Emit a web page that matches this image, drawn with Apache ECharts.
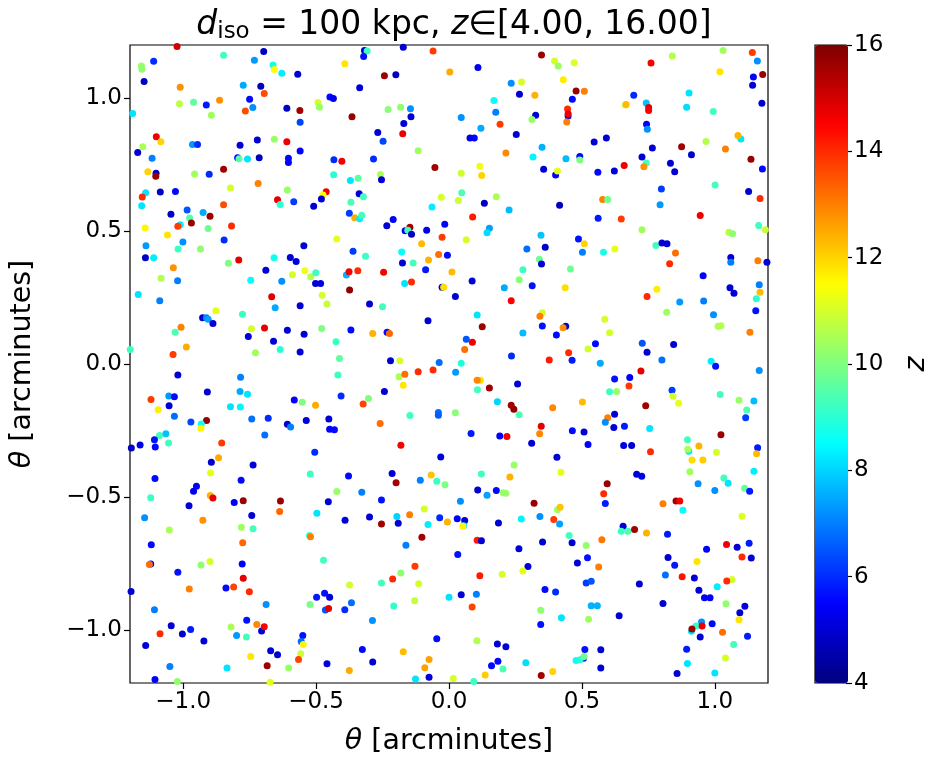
<!DOCTYPE html>
<html>
<head>
<meta charset="utf-8">
<script src="https://cdn.jsdelivr.net/npm/echarts@6/dist/echarts.min.js"></script>
<style>html,body{margin:0;padding:0;background:#fff;}#c{width:932px;height:762px;}</style>
</head>
<body>
<div id="c"></div>
<script>
// Points: [theta_x (arcmin), theta_y (arcmin), z]
const ptsNW = [[-1.023,1.194,15.0],[-0.697,1.176,4.8],[-0.848,1.161,9.3],[-1.111,1.139,6.0],[-1.157,1.121,10.3],[-1.155,1.109,10.2],[-0.732,1.143,7.3],[-0.662,1.125,8.7],[-0.657,1.108,11.5],[-0.629,1.094,8.3],[-1.147,1.063,4.8],[-1.011,1.041,12.8],[-0.774,1.049,7.5],[-0.708,1.045,4.7],[-0.695,1.018,13.6],[-0.750,0.996,5.6],[-0.863,0.992,12.8],[-1.014,0.979,10.7],[-0.961,0.985,9.6],[-0.913,0.974,5.8],[-0.894,0.936,10.4],[-0.766,0.952,13.6],[-0.738,0.965,7.2],[-1.190,0.942,8.2],[-0.610,0.962,4.8],[-1.101,0.855,14.7],[-1.084,0.836,12.0],[-1.152,0.817,10.5],[-1.171,0.796,5.0],[-1.117,0.774,7.0],[-0.965,0.826,7.3],[-0.946,0.826,6.0],[-0.786,0.823,5.0],[-0.721,0.843,5.0],[-0.657,0.845,10.3],[-0.610,0.836,14.7],[-0.795,0.776,5.5],[-0.790,0.772,9.5],[-0.758,0.771,8.2],[-0.714,0.776,4.8],[-1.133,0.723,12.0],[-1.102,0.718,4.8],[-1.103,0.706,15.7],[-0.957,0.715,10.4],[-0.902,0.714,6.0],[-0.848,0.733,15.6],[-0.822,0.662,11.0],[-0.718,0.679,13.0],[-0.608,0.655,10.3],[-1.141,0.644,8.2],[-1.154,0.628,14.0],[-1.156,0.595,8.2],[-1.086,0.647,4.8],[-1.029,0.649,5.6],[-0.645,0.618,14.8],[-0.635,0.600,9.0],[-0.985,0.579,6.5],[-0.925,0.570,7.5],[-1.046,0.563,4.8],[-0.976,0.549,9.5],[-0.969,0.530,15.7],[-0.899,0.556,15.7],[-0.848,0.599,13.6],[-1.011,0.524,8.3],[-1.020,0.518,13.8],[-0.906,0.510,9.8],[-0.818,0.519,14.0],[-1.143,0.512,11.6],[-1.059,0.485,11.8],[-1.001,0.459,7.2],[-0.846,0.466,6.0],[-1.140,0.445,7.3],[-1.019,0.433,9.2],[-0.935,0.433,10.2]];
const ptsNC = [[-0.604,0.774,5.6],[-0.604,0.758,5.5],[-0.318,1.179,5.0],[-0.308,1.177,9.2],[-0.321,1.157,5.7],[-0.172,1.192,5.0],[-0.060,1.177,13.8],[-0.392,1.129,11.8],[0.003,1.098,12.5],[-0.569,1.090,5.0],[-0.243,1.084,15.6],[-0.200,1.088,4.8],[-0.336,1.039,5.0],[-0.448,1.004,5.6],[-0.435,0.999,5.3],[-0.493,0.984,11.0],[-0.487,0.966,10.3],[-0.561,0.954,15.6],[-0.560,0.909,6.3],[-0.365,0.930,15.7],[-0.229,0.957,10.1],[-0.182,0.966,10.2],[-0.145,0.960,7.2],[-0.143,0.930,5.0],[-0.170,0.905,5.0],[-0.174,0.866,14.7],[-0.268,0.871,5.0],[-0.248,0.838,6.3],[-0.560,0.801,5.5],[-0.433,0.768,6.0],[-0.403,0.763,14.7],[-0.284,0.771,6.0],[-0.116,0.802,10.4],[-0.053,0.739,15.6],[-0.434,0.712,9.0],[-0.371,0.690,8.2],[-0.342,0.699,9.6],[-0.258,0.713,10.5],[-0.254,0.693,5.0],[-0.462,0.648,14.6],[-0.474,0.636,11.5],[-0.480,0.621,5.0],[-0.584,0.610,6.2],[-0.509,0.593,5.0],[-0.338,0.640,5.0],[-0.322,0.629,9.3],[-0.369,0.608,9.4],[-0.375,0.567,6.2],[-0.355,0.550,12.5],[-0.336,0.546,8.3],[-0.328,0.560,9.3],[-0.210,0.544,5.5],[-0.234,0.520,5.0],[-0.147,0.514,15.6],[-0.165,0.501,5.5],[-0.155,0.503,9.3],[-0.141,0.488,4.8],[-0.084,0.503,5.2],[-0.016,0.526,5.5],[-0.064,0.591,8.3],[-0.029,0.627,11.0],[-0.026,0.477,13.8],[-0.103,0.452,12.3],[-0.422,0.470,11.2],[-0.546,0.445,5.0],[-0.361,0.424,6.2],[-0.314,0.405,9.2],[-0.178,0.421,8.5],[-0.039,0.412,13.2],[-0.006,0.409,5.6]];
const ptsNE1 = [[0.348,1.162,15.7],[0.397,1.140,11.0],[0.411,1.121,10.3],[0.471,1.133,11.1],[0.109,1.115,5.4],[0.430,1.069,11.7],[0.234,1.056,7.2],[0.273,1.061,11.0],[0.265,1.015,5.0],[0.323,1.011,12.4],[0.478,1.027,15.7],[0.509,1.026,13.0],[0.464,0.996,5.6],[0.169,0.991,8.6],[0.176,0.947,7.0],[0.046,0.927,7.2],[0.446,0.959,14.0],[0.448,0.933,5.5],[0.448,0.941,14.7],[0.443,0.910,13.0],[0.326,0.936,5.0],[0.312,0.920,10.3],[0.192,0.902,13.8],[0.120,0.887,7.5],[0.253,0.863,5.0],[0.079,0.850,5.2],[0.095,0.850,5.5],[0.546,0.835,5.0],[0.592,0.850,5.0],[0.214,0.794,12.9],[0.350,0.815,7.6],[0.316,0.779,8.4],[0.440,0.772,7.7],[0.492,0.781,5.6],[0.492,0.767,10.0],[0.356,0.733,5.0],[0.401,0.711,5.4],[0.408,0.726,11.2],[0.116,0.744,11.3],[0.123,0.709,12.0],[0.046,0.718,10.9],[0.560,0.721,5.6],[0.048,0.644,9.4],[0.035,0.615,10.9],[0.178,0.629,10.5],[0.133,0.605,4.8],[0.226,0.579,7.7],[0.416,0.597,4.8],[0.578,0.619,13.0],[0.597,0.619,9.8],[0.561,0.548,5.8],[0.089,0.553,14.2],[0.152,0.511,7.4],[0.143,0.494,8.1],[0.065,0.467,11.0],[0.346,0.484,7.8],[0.487,0.470,5.7],[0.509,0.452,12.0],[0.293,0.433,6.8],[0.362,0.439,4.8],[0.502,0.420,7.0],[0.581,0.420,8.8]];
const ptsNE2 = [[1.031,1.179,10.4],[1.141,1.172,13.8],[1.160,1.140,7.2],[0.840,1.159,10.6],[0.760,1.132,14.6],[1.019,1.099,11.8],[1.145,1.080,5.5],[1.180,1.089,15.7],[1.142,1.049,5.0],[0.695,1.011,6.0],[0.664,0.974,10.8],[0.666,0.976,12.3],[0.742,0.982,7.8],[0.751,0.965,14.8],[0.751,0.954,14.6],[0.903,1.019,8.2],[0.894,0.966,8.1],[0.994,0.950,9.3],[1.177,0.981,5.0],[0.743,0.902,5.5],[0.746,0.883,7.2],[1.098,0.846,8.2],[1.087,0.860,12.4],[0.967,0.837,10.6],[1.040,0.809,13.0],[0.875,0.817,15.6],[0.912,0.787,5.0],[0.765,0.813,5.0],[0.726,0.779,5.0],[0.742,0.756,9.3],[0.733,0.742,12.8],[0.659,0.747,14.7],[0.622,0.726,5.0],[0.833,0.755,5.0],[0.849,0.723,5.0],[1.136,0.770,15.7],[1.179,0.734,5.6],[0.799,0.658,6.2],[1.001,0.673,9.3],[1.127,0.649,5.0],[1.170,0.623,14.0],[0.794,0.599,7.3],[0.945,0.559,14.7],[0.648,0.545,13.8],[0.726,0.505,10.4],[1.053,0.496,10.6],[1.067,0.490,10.2],[1.165,0.521,9.2],[1.190,0.505,10.8],[0.624,0.433,11.2],[0.778,0.446,9.3],[0.801,0.455,5.0],[0.820,0.452,5.0],[0.852,0.418,13.2]];
const ptsW = [[-1.142,0.400,4.8],[-1.111,0.400,8.3],[-0.830,0.379,10.0],[-0.791,0.391,14.8],[-0.658,0.400,8.7],[-0.597,0.401,5.0],[-0.575,0.386,5.0],[-1.037,0.362,12.8],[-1.083,0.323,10.6],[-1.021,0.313,7.0],[-1.169,0.261,8.2],[-1.088,0.238,7.0],[-0.689,0.353,5.0],[-0.746,0.315,8.5],[-0.629,0.311,7.2],[-0.667,0.253,14.8],[-0.654,0.212,7.5],[-0.877,0.200,11.2],[-0.927,0.174,5.0],[-0.913,0.174,7.0],[-0.906,0.168,7.4],[-0.888,0.152,5.0],[-0.777,0.187,9.2],[-1.008,0.138,13.0],[-1.030,0.119,9.4],[-0.988,0.064,12.5],[-1.038,0.036,13.8],[-1.199,0.055,9.2],[-0.743,0.133,11.0],[-0.694,0.135,14.8],[-0.755,0.103,5.0],[-0.660,0.086,5.0],[-0.635,0.055,9.0],[-0.728,0.042,10.4],[-0.608,0.127,5.0],[-1.020,-0.041,5.0],[-0.784,-0.050,7.0],[-0.909,-0.105,5.0],[-0.786,-0.103,7.5],[-0.758,-0.114,8.2],[-0.822,-0.161,8.2],[-0.785,-0.162,8.4],[-1.121,-0.134,13.8],[-1.054,-0.120,7.3],[-1.033,-0.123,5.6],[-1.053,-0.157,5.0],[-1.094,-0.172,11.7],[-1.033,-0.197,6.8],[-0.971,-0.218,6.3],[-0.912,-0.213,15.7],[-0.932,-0.226,8.6],[-0.933,-0.242,11.6],[-0.742,-0.207,6.8],[-0.680,-0.204,6.0],[-0.608,-0.227,5.0],[-0.596,-0.237,7.0],[-0.693,-0.267,6.8],[-1.089,-0.269,9.3],[-1.065,-0.262,7.8],[-1.108,-0.285,5.7],[-1.105,-0.312,5.6],[-1.055,-0.297,9.2],[-1.162,-0.305,5.2],[-1.195,-0.316,4.8],[-0.855,-0.297,13.8],[-0.867,-0.353,12.5],[-0.894,-0.370,5.0],[-0.737,-0.380,5.0]];
const ptsC1 = [[-0.589,0.336,11.0],[-0.542,0.351,11.3],[-0.520,0.328,10.6],[-0.501,0.343,9.2],[-0.502,0.303,5.0],[-0.483,0.303,5.2],[-0.477,0.259,11.0],[-0.459,0.226,10.8],[-0.560,0.219,5.0],[-0.386,0.335,7.6],[-0.376,0.347,14.6],[-0.343,0.351,14.0],[-0.374,0.278,15.8],[-0.246,0.345,14.6],[-0.175,0.380,5.0],[-0.135,0.380,9.3],[-0.077,0.391,12.4],[-0.088,0.355,5.8],[-0.167,0.303,8.2],[-0.141,0.308,14.0],[-0.026,0.289,5.0],[-0.020,0.289,11.9],[0.011,0.346,12.3],[-0.299,0.226,5.0],[-0.250,0.215,9.3],[-0.079,0.163,5.0],[-0.479,0.134,10.0],[-0.545,0.112,5.0],[-0.369,0.128,5.6],[-0.287,0.115,12.4],[-0.233,0.119,5.6],[-0.224,0.115,13.3],[-0.425,0.084,9.2],[-0.560,0.045,5.0],[-0.412,0.021,9.6],[-0.418,-0.041,9.2],[-0.220,0.012,5.0],[-0.185,0.012,11.0],[-0.188,-0.048,10.5],[-0.166,-0.039,13.2],[-0.172,-0.080,11.8],[-0.116,-0.029,14.0],[-0.060,-0.023,14.0],[-0.037,0.006,6.8],[-0.243,-0.103,5.0],[-0.582,-0.135,5.5],[-0.552,-0.144,10.0],[-0.502,-0.155,12.5],[-0.406,-0.120,6.0],[-0.303,-0.130,10.0],[-0.323,-0.150,13.7],[-0.147,-0.194,9.2],[-0.040,-0.182,6.8],[-0.040,-0.193,6.6],[-0.537,-0.213,5.0],[-0.452,-0.207,5.0],[-0.449,-0.245,5.5],[-0.431,-0.247,5.6],[-0.259,-0.224,13.2],[-0.181,-0.306,14.6],[-0.505,-0.332,6.0],[-0.031,-0.350,5.0]];
const ptsC2 = [[0.340,0.394,9.8],[0.348,0.376,5.0],[0.278,0.355,9.2],[0.264,0.317,10.1],[0.457,0.357,9.8],[0.087,0.312,5.0],[0.208,0.287,7.5],[0.313,0.294,5.7],[0.437,0.287,11.9],[0.024,0.254,5.0],[0.234,0.238,14.5],[0.106,0.184,8.2],[0.125,0.140,15.7],[0.351,0.193,11.0],[0.342,0.180,13.0],[0.351,0.143,5.7],[0.278,0.117,7.7],[0.404,0.109,5.6],[0.439,0.142,5.0],[0.429,0.136,12.8],[0.586,0.168,11.0],[0.604,0.118,11.0],[0.065,0.093,6.5],[0.088,0.082,14.7],[0.059,0.055,13.2],[0.235,0.030,6.0],[0.377,0.015,14.2],[0.450,0.042,14.0],[0.463,0.014,5.8],[0.523,0.056,11.0],[0.551,0.076,5.6],[0.569,0.003,7.5],[0.046,0.003,8.9],[0.025,-0.031,7.3],[0.118,-0.061,11.9],[0.106,-0.061,12.9],[0.107,-0.097,9.3],[0.152,-0.090,15.6],[0.258,-0.075,5.0],[0.182,-0.142,8.0],[0.234,-0.155,15.6],[0.244,-0.170,15.8],[0.264,-0.191,9.4],[0.390,-0.165,12.9],[0.502,-0.143,12.3],[0.597,-0.202,13.0],[0.588,-0.219,7.2],[0.024,-0.183,10.1],[0.083,-0.261,5.8],[0.191,-0.271,5.5],[0.218,-0.273,14.6],[0.347,-0.234,14.8],[0.341,-0.262,12.9],[0.311,-0.298,5.0],[0.464,-0.251,5.6],[0.508,-0.256,5.0],[0.523,-0.303,5.5],[0.406,-0.351,5.0],[0.245,-0.380,10.3]];
const ptsE = [[1.060,0.401,5.0],[1.060,0.383,7.0],[1.162,0.388,13.0],[1.196,0.383,5.0],[0.830,0.377,14.0],[0.956,0.332,5.5],[0.782,0.281,11.7],[0.745,0.254,14.0],[0.868,0.233,7.3],[0.958,0.237,7.0],[1.057,0.287,5.0],[1.072,0.266,5.0],[1.167,0.298,7.0],[1.170,0.270,12.3],[1.156,0.245,9.0],[1.154,0.200,5.7],[0.819,0.195,10.4],[0.995,0.185,7.2],[1.012,0.142,10.6],[1.023,0.144,10.6],[1.132,0.119,13.0],[0.727,0.078,6.5],[0.745,0.044,5.0],[0.845,0.073,5.0],[0.801,0.015,6.8],[0.986,0.010,8.3],[1.003,-0.008,5.7],[1.167,-0.024,7.2],[0.722,-0.026,14.8],[0.680,-0.051,5.4],[0.623,-0.056,5.7],[0.677,-0.083,13.8],[0.604,-0.104,9.2],[0.631,-0.103,10.3],[0.839,-0.099,6.2],[0.843,-0.121,11.0],[0.864,-0.148,11.2],[1.020,-0.115,9.3],[1.091,-0.136,10.3],[1.147,-0.139,7.7],[1.120,-0.173,9.4],[1.116,-0.202,6.2],[0.740,-0.157,15.6],[0.623,-0.189,5.0],[0.620,-0.239,5.0],[0.660,-0.234,5.8],[0.755,-0.243,8.2],[0.657,-0.307,5.2],[0.687,-0.307,5.0],[0.758,-0.330,14.0],[0.897,-0.285,9.3],[0.902,-0.328,8.3],[0.898,-0.321,10.5],[0.940,-0.308,12.4],[1.023,-0.266,15.7],[1.006,-0.332,11.0],[0.914,-0.361,11.9],[0.955,-0.361,12.1],[1.161,-0.315,5.8],[1.157,-0.338,12.3]];
const ptsSW = [[-0.897,-0.410,11.2],[-1.106,-0.431,5.6],[-0.782,-0.437,5.6],[-0.950,-0.460,5.4],[-0.961,-0.479,5.3],[-1.122,-0.503,9.2],[-0.898,-0.495,12.4],[-0.888,-0.504,14.8],[-0.978,-0.533,5.0],[-0.808,-0.521,5.4],[-0.774,-0.514,15.7],[-0.634,-0.515,15.7],[-0.637,-0.555,13.3],[-0.742,-0.570,5.0],[-1.145,-0.578,7.2],[-0.926,-0.588,12.8],[-1.052,-0.624,10.5],[-0.781,-0.614,10.4],[-0.737,-0.620,9.3],[-0.776,-0.672,13.3],[-1.120,-0.680,5.6],[-1.122,-0.752,5.5],[-1.127,-0.754,13.2],[-0.933,-0.756,10.2],[-0.899,-0.743,11.0],[-0.778,-0.752,5.5],[-1.020,-0.783,5.7],[-0.774,-0.806,14.8],[-1.196,-0.856,5.0],[-0.977,-0.846,13.0],[-0.839,-0.843,5.6],[-0.810,-0.839,13.7],[-0.751,-0.857,14.0],[-1.108,-0.924,7.0],[-0.688,-0.905,7.2],[-1.045,-0.985,5.0],[-1.087,-1.015,14.0],[-1.003,-1.016,5.0],[-0.972,-0.999,5.8],[-0.922,-1.042,5.0],[-1.141,-1.059,5.0],[-0.820,-0.989,10.5],[-0.799,-1.021,7.3],[-0.761,-0.964,5.7],[-0.762,-1.027,9.3],[-0.723,-0.980,12.9],[-0.705,-1.004,5.0],[-0.695,-0.988,14.6],[-0.671,-1.079,5.0],[-0.645,-1.094,5.0],[-0.746,-1.100,11.8],[-0.684,-1.135,15.6],[-1.050,-1.138,7.0],[-0.835,-1.144,8.2],[-1.106,-1.187,5.5],[-1.022,-1.194,10.2],[-0.673,-1.197,11.2],[-0.603,-1.144,10.3]];
const ptsS1 = [[-0.522,-0.414,9.2],[-0.378,-0.421,5.6],[-0.214,-0.412,5.0],[-0.199,-0.447,15.6],[-0.422,-0.480,10.3],[-0.328,-0.482,7.0],[-0.454,-0.518,5.0],[-0.254,-0.512,5.7],[-0.108,-0.437,7.0],[-0.067,-0.418,12.2],[-0.046,-0.441,9.2],[-0.015,-0.454,10.0],[-0.497,-0.561,8.2],[-0.391,-0.588,5.0],[-0.299,-0.576,5.0],[-0.254,-0.602,15.6],[-0.196,-0.574,8.0],[-0.191,-0.599,5.0],[-0.148,-0.567,13.0],[-0.093,-0.545,11.0],[-0.079,-0.604,8.3],[-0.035,-0.578,6.0],[-0.006,-0.594,12.4],[-0.102,-0.652,15.6],[-0.525,-0.645,9.2],[-0.521,-0.650,13.0],[-0.162,-0.682,7.0],[-0.472,-0.738,9.3],[-0.128,-0.761,13.8],[-0.181,-0.786,10.2],[-0.212,-0.809,14.0],[-0.254,-0.824,9.3],[-0.114,-0.827,11.0],[-0.374,-0.831,11.0],[-0.468,-0.862,5.7],[-0.498,-0.877,5.8],[-0.449,-0.877,5.0],[-0.523,-0.905,9.9],[-0.465,-0.925,6.5],[-0.453,-0.920,14.8],[-0.392,-0.924,6.0],[-0.367,-0.898,6.8],[-0.288,-0.965,7.2],[-0.208,-0.910,9.1],[-0.129,-0.891,10.8],[0.000,-0.877,8.2],[-0.550,-1.021,5.7],[-0.556,-1.044,6.8],[-0.548,-1.055,11.6],[-0.558,-1.090,10.9],[-0.566,-1.112,13.7],[-0.326,-1.074,5.6],[-0.459,-1.128,5.0],[-0.287,-1.121,5.0],[-0.375,-1.153,12.5],[-0.172,-1.082,12.3],[-0.046,-1.034,5.6],[-0.075,-1.112,12.6],[-0.091,-1.143,12.6],[-0.075,-1.178,5.0],[-0.126,-1.185,8.2]];
const ptsS2 = [[0.122,-0.414,9.3],[0.229,-0.425,12.4],[0.421,-0.407,11.2],[0.108,-0.474,5.0],[0.143,-0.494,7.4],[0.178,-0.476,5.6],[0.204,-0.484,10.2],[0.214,-0.486,10.3],[0.043,-0.516,7.2],[0.320,-0.524,15.7],[0.595,-0.450,15.7],[0.582,-0.488,14.0],[0.588,-0.525,5.8],[0.031,-0.582,5.5],[0.059,-0.589,5.0],[0.055,-0.608,8.2],[0.052,-0.610,11.6],[0.186,-0.598,5.0],[0.272,-0.583,8.4],[0.342,-0.574,7.2],[0.394,-0.585,13.8],[0.416,-0.602,7.4],[0.408,-0.548,10.3],[0.418,-0.539,12.2],[0.452,-0.645,9.3],[0.463,-0.672,5.0],[0.516,-0.683,10.2],[0.575,-0.661,13.1],[0.106,-0.663,14.2],[0.122,-0.665,5.0],[0.352,-0.670,5.0],[0.263,-0.695,5.0],[0.033,-0.717,5.7],[0.483,-0.749,5.0],[0.521,-0.729,5.7],[0.563,-0.764,13.0],[0.297,-0.762,5.0],[0.278,-0.779,11.2],[0.200,-0.791,11.0],[0.116,-0.797,14.2],[0.516,-0.824,6.2],[0.535,-0.817,6.5],[0.361,-0.848,5.6],[0.401,-0.858,6.0],[0.046,-0.868,5.0],[0.103,-0.866,7.0],[0.087,-0.914,13.7],[0.535,-0.909,7.6],[0.558,-0.909,7.6],[0.345,-0.926,10.2],[0.423,-0.955,8.2],[0.525,-0.960,10.4],[0.345,-0.980,5.7],[0.105,-1.041,10.6],[0.182,-1.053,5.0],[0.214,-1.064,5.0],[0.184,-1.118,5.6],[0.160,-1.135,5.6],[0.203,-1.147,9.4],[0.289,-1.124,8.1],[0.390,-1.157,12.0],[0.347,-1.172,15.6],[0.136,-1.170,12.1],[0.016,-1.183,11.0],[0.093,-1.194,9.2],[0.511,-1.074,5.7],[0.571,-1.075,5.0],[0.571,-1.144,5.0],[0.506,-1.107,5.8],[0.478,-1.115,8.6],[0.493,-1.113,9.0],[0.508,-1.100,9.8]];
const ptsSE = [[0.906,-0.405,10.4],[1.147,-0.403,8.3],[0.706,-0.415,5.0],[0.725,-0.422,5.2],[0.937,-0.450,7.2],[1.034,-0.429,9.3],[1.050,-0.449,8.2],[1.000,-0.476,7.2],[1.112,-0.467,9.7],[1.131,-0.479,5.8],[0.805,-0.526,13.0],[0.854,-0.515,15.6],[0.868,-0.515,14.6],[0.880,-0.550,8.5],[1.102,-0.573,11.1],[0.655,-0.610,5.0],[0.648,-0.629,9.2],[0.673,-0.629,9.4],[0.698,-0.623,15.6],[0.743,-0.636,12.4],[0.822,-0.640,5.8],[0.969,-0.697,5.5],[1.044,-0.679,14.7],[1.084,-0.689,5.0],[1.129,-0.674,5.8],[1.102,-0.726,14.0],[1.137,-0.730,5.0],[0.824,-0.728,5.0],[0.849,-0.757,5.8],[0.933,-0.743,11.8],[0.814,-0.794,6.8],[0.877,-0.800,14.3],[0.923,-0.805,5.0],[0.716,-0.828,5.0],[1.065,-0.811,11.0],[1.045,-0.816,14.0],[1.009,-0.838,8.3],[0.940,-0.851,5.0],[0.961,-0.879,5.5],[0.982,-0.879,5.5],[0.805,-0.901,5.0],[1.042,-0.902,10.2],[1.113,-0.911,5.0],[1.094,-0.936,5.0],[1.091,-0.962,11.8],[0.640,-0.947,5.0],[0.912,-1.005,8.2],[0.950,-0.971,7.2],[0.929,-0.986,9.1],[0.952,-0.986,14.7],[0.914,-0.997,15.6],[0.990,-0.977,5.6],[0.945,-1.027,5.0],[1.029,-1.009,13.2],[1.123,-1.024,5.8],[1.071,-1.055,9.3],[0.894,-1.073,5.8],[1.040,-1.106,11.0],[0.897,-1.127,8.2],[0.858,-1.164,5.0],[1.000,-1.162,8.2]];

const axisTicks = [-1.0, -0.5, 0.0, 0.5, 1.0];
const zRange = [4, 16];
const jet = ['#00007f','#0000ff','#007fff','#00ffff','#7fff7f','#ffff00','#ff7f00','#ff0000','#7f0000'];

const points = [].concat(ptsNW, ptsNC, ptsNE1, ptsNE2, ptsW, ptsC1, ptsC2, ptsE, ptsSW, ptsS1, ptsS2, ptsSE);

const FONT = 'DejaVu Sans';
const TICK_FS = 23;
const NAME_FS = 28.5;
const fmt = v => (v < 0 ? '\u2212' : '') + Math.abs(v).toFixed(1);
const tickStyle = {show: true, inside: false, length: 6, lineStyle: {color: '#000', width: 1.2}};
const nameStyle = {color: '#000', fontSize: NAME_FS, fontFamily: FONT, fontWeight: 'normal',
  rich: {t: {fontStyle: 'italic', fontSize: NAME_FS, fontFamily: FONT, color: '#000'}, r: {fontSize: NAME_FS, fontFamily: FONT, color: '#000'}}};

const chart = echarts.init(document.getElementById('c'), null, {renderer: 'canvas'});
chart.setOption({
  backgroundColor: '#fff',
  animation: false,
  textStyle: {fontFamily: FONT},
  title: {
    left: 449, top: 1, textAlign: 'center',
    text: '{i|d}{s|iso}{r| = 100 kpc, }{i|z}{r|\u2208[4.00, 16.00]}',
    textStyle: {
      fontWeight: 'normal',
      rich: {
        i: {fontFamily: FONT, fontStyle: 'italic', fontWeight: 'normal', fontSize: 33, color: '#000'},
        s: {fontFamily: FONT, fontWeight: 'normal', fontSize: 23, color: '#000', verticalAlign: 'bottom', padding: [15, 0, 0, 0]},
        r: {fontFamily: FONT, fontWeight: 'normal', fontSize: 33, color: '#000'}
      }
    }
  },
  grid: [
    {left: 130, top: 45, width: 638, height: 638, show: true, borderColor: '#000', borderWidth: 1.2, containLabel: false},
    {left: 815, top: 45, width: 33, height: 638, show: true, borderColor: '#000', borderWidth: 1.2, containLabel: false}
  ],
  xAxis: [
    {
      gridIndex: 0, type: 'value', min: -1.2, max: 1.2,
      axisLine: {show: false, onZero: false},
      splitLine: {show: false},
      axisTick: Object.assign({customValues: axisTicks}, tickStyle),
      axisLabel: {show: true, customValues: axisTicks, formatter: fmt, color: '#000', fontSize: TICK_FS, fontFamily: FONT, margin: 8},
      name: '{t|\u03b8}{r| [arcminutes]}', nameLocation: 'middle', nameGap: 44,
      nameTextStyle: nameStyle
    },
    {gridIndex: 1, type: 'value', min: 0, max: 1, show: false}
  ],
  yAxis: [
    {
      gridIndex: 0, type: 'value', min: -1.2, max: 1.2,
      axisLine: {show: false, onZero: false},
      splitLine: {show: false},
      axisTick: Object.assign({customValues: axisTicks}, tickStyle),
      axisLabel: {show: true, customValues: axisTicks, formatter: fmt, color: '#000', fontSize: TICK_FS, fontFamily: FONT, margin: 8},
      name: '{t|\u03b8}{r| [arcminutes]}', nameLocation: 'middle', nameGap: 93, nameRotate: 90,
      nameTextStyle: nameStyle
    },
    {
      gridIndex: 1, type: 'value', min: zRange[0], max: zRange[1], interval: 2, position: 'right',
      axisLine: {show: false, onZero: false},
      splitLine: {show: false},
      axisTick: tickStyle,
      axisLabel: {show: true, color: '#000', fontSize: TICK_FS, fontFamily: FONT, margin: 8},
      name: 'z', nameLocation: 'middle', nameGap: 56, nameRotate: 90,
      nameTextStyle: {color: '#000', fontSize: NAME_FS, fontFamily: FONT, fontStyle: 'italic'}
    }
  ],
  visualMap: {
    type: 'continuous', min: zRange[0], max: zRange[1], dimension: 2, seriesIndex: 0,
    inRange: {color: jet},
    calculable: false, realtime: false, hoverLink: false,
    itemWidth: 33, itemHeight: 638, left: 815, top: 45, padding: 0,
    orient: 'vertical', text: null,
    textStyle: {color: 'transparent'}
  },
  series: [{
    type: 'scatter', xAxisIndex: 0, yAxisIndex: 0,
    data: points,
    symbol: 'circle', symbolSize: 7,
    itemStyle: {opacity: 1},
    emphasis: {disabled: true},
    silent: true,
    clip: true
  }]
});
</script>
</body>
</html>
